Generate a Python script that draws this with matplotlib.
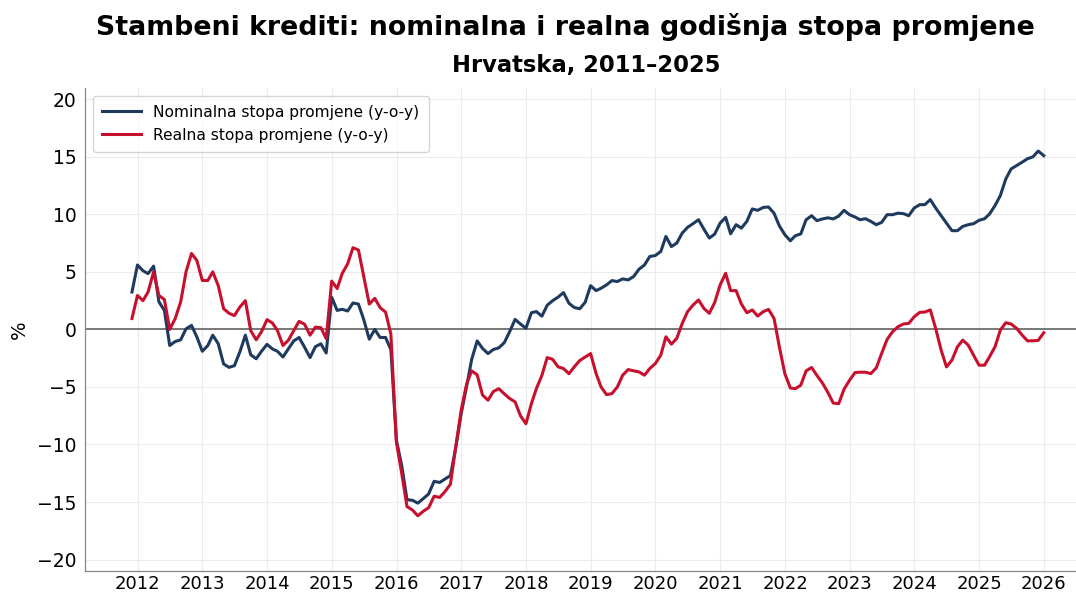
import numpy as np
import pandas as pd
import matplotlib
matplotlib.use('Agg')
import matplotlib.pyplot as plt
import matplotlib.dates as mdates

# monthly data, Nov 2011 - Dec 2025 (month-end)
start_month = '2011-11-30'
end_month = '2025-12-31'

nominal = [
    3.25, 5.6, 5.1, 4.85, 5.5, 2.4, 1.65, -1.4, -1.05, -0.9,
    0.05, 0.35, -0.65, -1.9, -1.4, -0.5, -1.25, -3.0, -3.3, -3.15,
    -1.95, -0.5, -2.2, -2.55, -1.9, -1.3, -1.7, -1.9, -2.4, -1.7,
    -1.0, -0.7, -1.55, -2.45, -1.5, -1.25, -2.05, 2.8, 1.65, 1.75,
    1.6, 2.3, 2.2, 0.85, -0.85, 0.0, -0.7, -0.7, -1.75, -9.6,
    -11.9, -14.8, -14.85, -15.1, -14.7, -14.3, -13.2, -13.3, -13.0, -12.7,
    -10.3, -7.3, -4.9, -2.6, -1.0, -1.65, -2.1, -1.75, -1.6, -1.15,
    -0.2, 0.87, 0.47, 0.1, 1.45, 1.55, 1.15, 2.1, 2.5, 2.8,
    3.2, 2.27, 1.9, 1.8, 2.35, 3.8, 3.37, 3.58, 3.87, 4.24,
    4.16, 4.39, 4.3, 4.6, 5.23, 5.6, 6.34, 6.42, 6.77, 8.08,
    7.2, 7.5, 8.37, 8.87, 9.19, 9.53, 8.72, 7.94, 8.28, 9.24,
    9.74, 8.31, 9.1, 8.8, 9.4, 10.47, 10.35, 10.6, 10.64, 10.1,
    9.0, 8.23, 7.7, 8.14, 8.3, 9.53, 9.88, 9.45, 9.6, 9.7,
    9.6, 9.85, 10.35, 9.97, 9.77, 9.53, 9.62, 9.39, 9.1, 9.3,
    9.97, 9.97, 10.1, 10.06, 9.88, 10.55, 10.84, 10.84, 11.28, 10.55,
    9.88, 9.24, 8.58, 8.58, 8.95, 9.1, 9.19, 9.48, 9.62, 10.03,
    10.76, 11.63, 13.08, 13.95, 14.24, 14.53, 14.83, 15.0, 15.5, 15.1,
]

real = [
    0.95, 2.95, 2.5, 3.25, 5.0, 2.95, 2.6, 0.0, 0.95, 2.4,
    5.0, 6.6, 6.0, 4.25, 4.25, 5.0, 3.8, 1.8, 1.4, 1.2,
    1.95, 2.5, -0.1, -0.9, -0.2, 0.85, 0.55, -0.1, -1.4, -0.95,
    -0.1, 0.7, 0.45, -0.5, 0.2, 0.15, -0.8, 4.2, 3.55, 4.85,
    5.7, 7.1, 6.9, 4.6, 2.2, 2.7, 1.9, 1.5, -0.4, -9.8,
    -12.6, -15.4, -15.7, -16.2, -15.8, -15.5, -14.5, -14.6, -14.1, -13.45,
    -10.2, -7.0, -4.7, -3.6, -3.95, -5.7, -6.15, -5.4, -5.15, -5.6,
    -6.0, -6.3, -7.5, -8.2, -6.45, -5.15, -4.0, -2.45, -2.6, -3.25,
    -3.4, -3.85, -3.25, -2.7, -2.4, -2.1, -3.84, -5.0, -5.67, -5.58,
    -5.0, -3.98, -3.49, -3.6, -3.69, -3.98, -3.4, -2.97, -2.24, -0.64,
    -1.28, -0.78, 0.52, 1.54, 2.12, 2.56, 1.83, 1.4, 2.33, 3.87,
    4.88, 3.37, 3.37, 2.2, 1.45, 1.69, 1.16, 1.54, 1.74, 0.96,
    -1.51, -3.84, -5.09, -5.15, -4.85, -3.6, -3.31, -4.0, -4.65, -5.48,
    -6.4, -6.45, -5.2, -4.42, -3.75, -3.72, -3.72, -3.84, -3.35, -2.1,
    -0.87, -0.2, 0.23, 0.47, 0.52, 1.1, 1.48, 1.51, 1.69, 0.09,
    -1.8, -3.26, -2.67, -1.51, -0.93, -1.37, -2.24, -3.11, -3.11, -2.38,
    -1.51, -0.06, 0.58, 0.47, 0.09, -0.49, -0.99, -0.99, -0.95, -0.29,
]

y_ticks = [-20, -15, -10, -5, 0, 5, 10, 15, 20]

dates = pd.date_range(start_month, end_month, freq='ME')

fig = plt.figure(figsize=(10.76, 5.93), dpi=100)
ax = fig.add_axes([0.079, 0.037, 0.921, 0.815])

ax.plot(dates, nominal, color='#1f3a5f', lw=2.2, label='Nominalna stopa promjene (y-o-y)')
ax.plot(dates, real, color='#c8102e', lw=2.2, label='Realna stopa promjene (y-o-y)')
ax.axhline(0, color='#555555', lw=1.1, zorder=1)

ax.set_ylim(-21, 21)
ax.set_yticks(y_ticks)
ax.set_xlim(pd.Timestamp('2011-03-10'), pd.Timestamp('2026-07-01'))
ax.xaxis.set_major_locator(mdates.YearLocator())
ax.xaxis.set_major_formatter(mdates.DateFormatter('%Y'))

ax.grid(True, color='#ebebeb', lw=0.8)
ax.set_axisbelow(True)
for s in ['top', 'right']:
    ax.spines[s].set_visible(False)
for s in ['left', 'bottom']:
    ax.spines[s].set_color('#888888')
    ax.spines[s].set_linewidth(0.9)
ax.tick_params(axis='y', length=0, labelsize=13.5, pad=6)
ax.tick_params(axis='x', length=0, labelsize=13, pad=3)
ax.set_ylabel('%', fontsize=14, labelpad=6)

leg = ax.legend(loc='upper left', fontsize=11.2, frameon=True, borderpad=0.6,
                handlelength=2.5, bbox_to_anchor=(0.0, 1.0))
leg.get_frame().set_edgecolor('#cccccc')

fig.text(0.525, 0.955, 'Stambeni krediti: nominalna i realna godišnja stopa promjene',
         ha='center', va='center', fontsize=19.3, fontweight='bold')
fig.text(0.545, 0.889, 'Hrvatska, 2011–2025', ha='center', va='center',
         fontsize=16.3, fontweight='bold')

fig.savefig('out.png', dpi=100)
